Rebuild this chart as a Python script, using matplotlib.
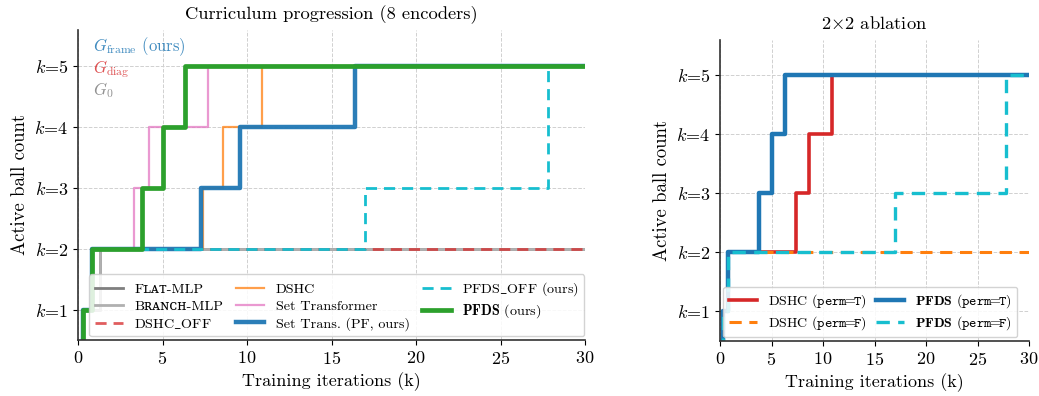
import numpy as np
import matplotlib
matplotlib.use('Agg')
from matplotlib import pyplot as plt

plt.rcParams['font.family'] = ['cmr10', 'DejaVu Serif']
plt.rcParams['mathtext.fontset'] = 'cm'
plt.rcParams['axes.formatter.use_mathtext'] = True
plt.rcParams['axes.unicode_minus'] = False

# step curves: (iteration in k, active ball count), drawn with where='post'
flat_t = [0, 0.3, 1.3, 30]
flat_k = [0, 1, 2, 2]
branch_t = [0, 0.3, 1.3, 30]
branch_k = [0, 1, 2, 2]
dshc_off_t = [0, 0.3, 0.8, 30]
dshc_off_k = [0, 1, 2, 2]
dshc_t = [0, 0.3, 0.8, 7.4, 8.6, 10.9, 30]
dshc_k = [0, 1, 2, 3, 4, 5, 5]
settr_t = [0, 0.3, 0.8, 3.3, 4.2, 7.7, 30]
settr_k = [0, 1, 2, 3, 4, 5, 5]
settr_pf_t = [0, 0.3, 0.8, 7.3, 9.6, 16.4, 30]
settr_pf_k = [0, 1, 2, 3, 4, 5, 5]
pfds_off_t = [0, 0.3, 0.8, 17.0, 27.8, 30]
pfds_off_k = [0, 1, 2, 3, 5, 5]
pfds_t = [0, 0.3, 0.8, 3.8, 5.0, 6.3, 30]
pfds_k = [0, 1, 2, 3, 4, 5, 5]

yticks = [1, 2, 3, 4, 5]
ytick_labels = [r'$k$=%d' % k for k in yticks]
xticks = [0, 5, 10, 15, 20, 25, 30]

perm_t = r'$\mathtt{perm}\!\!=\!\!\mathtt{T}$'
perm_f = r'$\mathtt{perm}\!\!=\!\!\mathtt{F}$'

fig = plt.figure(figsize=(10.39, 3.96), dpi=100)
ax1 = fig.add_axes([0.0751, 0.1414, 0.488, 0.783])
ax2 = fig.add_axes([0.693, 0.139, 0.2974, 0.760])


def style_axes(ax, title):
    ax.set_xlim(0, 30)
    ax.set_ylim(0.5, 5.6)
    ax.set_xticks(xticks)
    ax.set_yticks(yticks)
    ax.set_yticklabels(ytick_labels)
    ax.tick_params(labelsize=13)
    ax.grid(True, linestyle='--', color='#d0d0d0', linewidth=0.7)
    ax.set_axisbelow(True)
    for s in ['top', 'right']:
        ax.spines[s].set_visible(False)
    for s in ['left', 'bottom']:
        ax.spines[s].set_color('#333333')
        ax.spines[s].set_linewidth(1.2)
    ax.set_xlabel('Training iterations (k)', fontsize=13)
    ax.set_ylabel('Active ball count', fontsize=13.5)
    ax.set_title(title, fontsize=13.3, pad=8)


# left panel: all 8 encoders
ax1.step(flat_t, flat_k, where='post', color='#7f7f7f', lw=2,
         label='F\u029f\u1d00\u1d1b-MLP')
ax1.step(branch_t, branch_k, where='post', color='#b0b0b0', lw=2,
         label='B\u0280\u1d00\u0274\u1d04\u029c-MLP')
ax1.step(dshc_off_t, dshc_off_k, where='post', color='#d62728', lw=2,
         ls=(0, (4, 2.5)), alpha=0.75, label=r'DSHC$\_$OFF')
ax1.step(dshc_t, dshc_k, where='post', color='#ff7f0e', lw=1.6,
         alpha=0.75, label='DSHC')
ax1.step(settr_t, settr_k, where='post', color='#e377c2', lw=1.6,
         alpha=0.75, label='Set Transformer')
ax1.step(settr_pf_t, settr_pf_k, where='post', color='#1f77b4', lw=3.2,
         alpha=0.95, label='Set Trans. (PF, ours)')
ax1.step(pfds_off_t, pfds_off_k, where='post', color='#17becf', lw=2,
         ls=(0, (4, 2.5)), label=r'PFDS$\_$OFF (ours)')
ax1.step(pfds_t, pfds_k, where='post', color='#2ca02c', lw=3.4,
         label=r'$\mathbf{PFDS}$ (ours)')
style_axes(ax1, 'Curriculum progression (8 encoders)')

leg1 = ax1.legend(loc='lower center', bbox_to_anchor=(0.51, 0.0), ncol=3,
                  fontsize=10.2, frameon=True, handlelength=2.0,
                  columnspacing=0.9, labelspacing=0.3, borderpad=0.4,
                  borderaxespad=0.25)
leg1.get_frame().set_edgecolor('#cccccc')
leg1.get_frame().set_alpha(0.85)

ax1.text(0.03, 0.945, r'$G_{\mathrm{frame}}$ (ours)', transform=ax1.transAxes,
         color='#1f77b4', alpha=0.85, fontsize=12, va='center')
ax1.text(0.03, 0.875, r'$G_{\mathrm{diag}}$', transform=ax1.transAxes,
         color='#d62728', alpha=0.8, fontsize=12, va='center')
ax1.text(0.03, 0.805, r'$G_0$', transform=ax1.transAxes,
         color='#7f7f7f', alpha=0.85, fontsize=12, va='center')

# right panel: 2x2 ablation
ax2.step(dshc_t, dshc_k, where='post', color='#d62728', lw=2.6,
         label='DSHC (' + perm_t + ')')
ax2.step(dshc_off_t, dshc_off_k, where='post', color='#ff7f0e', lw=2.2,
         ls=(0, (4, 2.5)), label='DSHC (' + perm_f + ')')
ax2.step(pfds_t, pfds_k, where='post', color='#1f77b4', lw=3.2,
         label=r'$\mathbf{PFDS}$ (' + perm_t + ')')
ax2.step(pfds_off_t, pfds_off_k, where='post', color='#17becf', lw=2.4,
         ls=(0, (4, 2.5)), label=r'$\mathbf{PFDS}$ (' + perm_f + ')')
style_axes(ax2, r'2$\times$2 ablation')

leg2 = ax2.legend(loc='lower left', bbox_to_anchor=(0.0, 0.0), ncol=2,
                  fontsize=10, frameon=True, handlelength=2.0,
                  columnspacing=0.7, labelspacing=0.3, borderpad=0.4,
                  borderaxespad=0.25)
leg2.get_frame().set_edgecolor('#cccccc')
leg2.get_frame().set_alpha(0.85)

fig.savefig('out.png', dpi=100)
